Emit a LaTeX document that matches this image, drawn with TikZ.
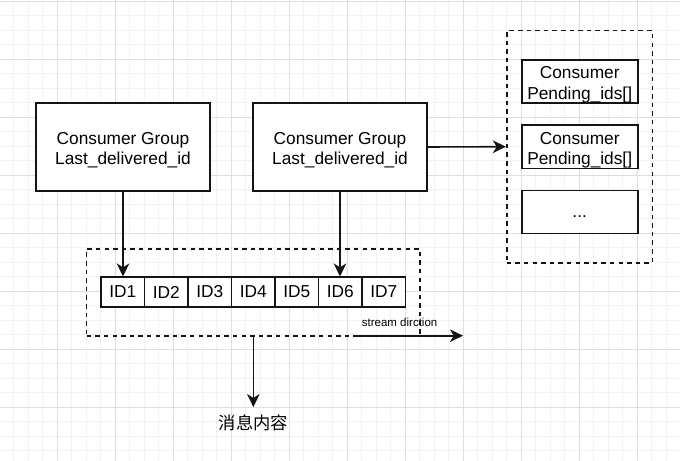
\documentclass[tikz,border=0pt]{standalone}
\usepackage{fontspec}
\setmainfont{Liberation Sans}
\newfontfamily\cjk{Noto Sans CJK SC}
\usetikzlibrary{arrows.meta}
\definecolor{gridminor}{RGB}{242,242,242}
\definecolor{gridmajor}{RGB}{222,222,222}
\definecolor{stroke}{RGB}{20,20,20}
\newcommand{\topstrut}{\rule{0pt}{18.5bp}}
\tikzset{
  box/.style={draw=stroke, line width=1.6bp, fill=white, align=center, inner sep=0pt,
    font=\fontsize{17.3bp}{20.3bp}\selectfont},
  cell/.style={box, minimum width=43.5bp, minimum height=29.4bp},
  dashbox/.style={draw=stroke, line width=1.6bp, dash pattern=on 4.5bp off 4.1bp, inner sep=0pt},
  arr/.style={draw=stroke, line width=1.6bp, -{Stealth[length=13bp,width=12.5bp,inset=3.8bp]}},
}
\begin{document}
\begin{tikzpicture}[x=1bp,y=-1bp]
\useasboundingbox (0,0) rectangle (680,461);
\fill[white] (0,0) rectangle (680,461);
% grid
\foreach \i in {0,...,47} {
  \pgfmathsetmacro{\gx}{-0.7+14.5*\i}
  \draw[gridminor, line width=0.9bp] (\gx,0) -- (\gx,461);
}
\foreach \i in {0,...,32} {
  \pgfmathsetmacro{\gy}{1+14.5*\i}
  \draw[gridminor, line width=0.9bp] (0,\gy) -- (680,\gy);
}
\foreach \i in {0,...,12} {
  \pgfmathsetmacro{\gx}{-0.7+58*\i}
  \draw[gridmajor, line width=0.9bp] (\gx,0) -- (\gx,461);
}
\foreach \i in {0,...,8} {
  \pgfmathsetmacro{\gy}{1+58*\i}
  \draw[gridmajor, line width=0.9bp] (0,\gy) -- (680,\gy);
}
% containers
\node[dashbox, minimum width=333.3bp, minimum height=86.7bp] (stream) at (253.35,292.35) {};
\node[dashbox, minimum width=145.6bp, minimum height=232bp] (pend) at (579.5,146.7) {};
% consumer groups
\node[box, minimum width=174bp, minimum height=88bp] (g1) at (123,147) {\topstrut Consumer Group\\Last\_delivered\_id};
\node[box, minimum width=174bp, minimum height=88bp] (g2) at (340,147) {\topstrut Consumer Group\\Last\_delivered\_id};
% consumers
\node[box, minimum width=116bp, minimum height=43bp] (c1) at (579.7,81.5) {\topstrut Consumer\\Pending\_ids[]};
\node[box, minimum width=116bp, minimum height=43.3bp] (c2) at (579.7,146.7) {\topstrut Consumer\\Pending\_ids[]};
\node[box, minimum width=116bp, minimum height=43bp] (c3) at (579.7,212.2) {\rule{0pt}{10bp}...};
% id cells
\foreach \k in {1,...,7} {
  \pgfmathsetmacro{\cx}{101+43.5*(\k-0.5)}
  \node[cell] (id\k) at (\cx,292) {ID\k};
}
% arrows
\draw[arr] (g1.south) -- (g1.south |- id1.north);
\draw[arr] (g2.south) -- (g2.south |- id6.north);
\draw[arr] (g2.east) -- (pend.west);
% stream direction
\coordinate (sd1) at (358,335.7);
\coordinate (sd2) at (463,335.7);
\draw[arr] (sd1) -- (sd2);
\node[anchor=base west, inner sep=0pt, font=\fontsize{11.5bp}{13bp}\selectfont] (sdl) at (361.7,327) {stream dirction};
% message content
\node[anchor=base, inner sep=7bp, font=\cjk\fontsize{17.3bp}{20bp}\selectfont] (msg) at (253.35,429) {消息内容};
\draw[arr] (stream.south) -- (msg.north);
\end{tikzpicture}
\end{document}
